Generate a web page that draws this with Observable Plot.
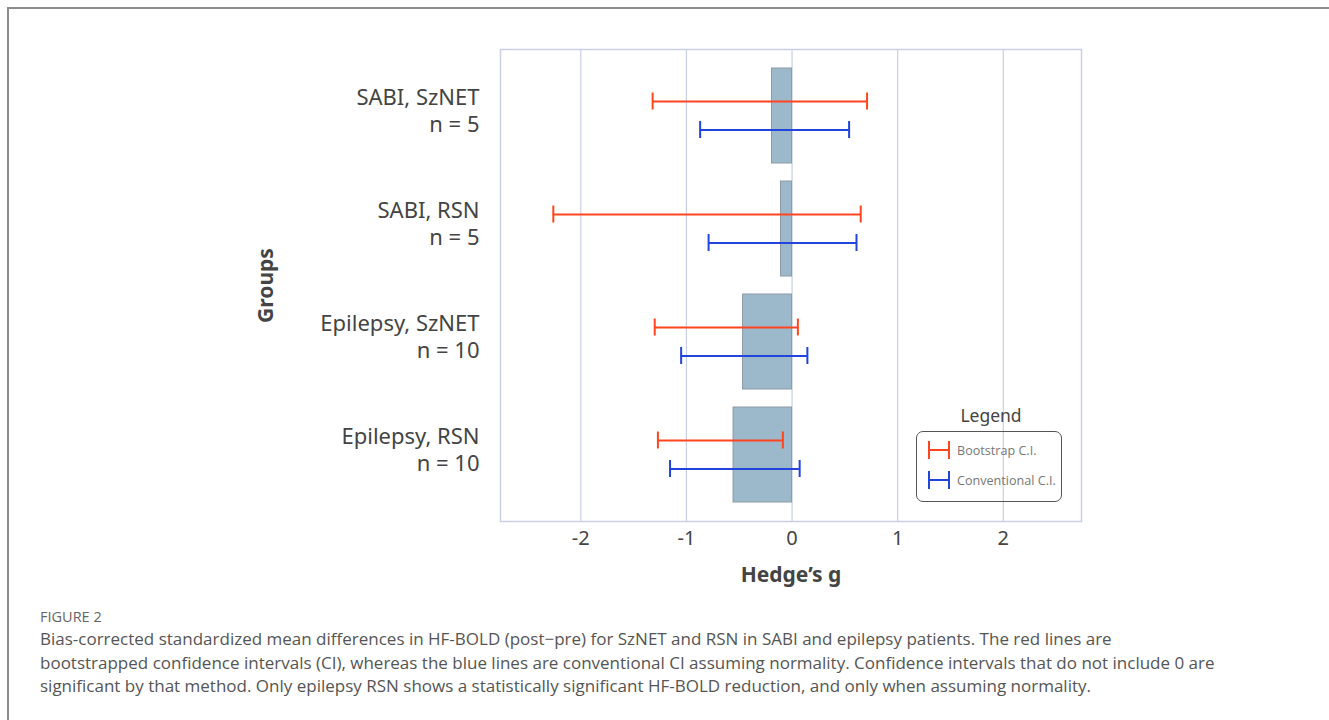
<!DOCTYPE html>
<html><head><meta charset="utf-8">
<script src="https://cdn.jsdelivr.net/npm/d3@7"></script>
<script src="https://cdn.jsdelivr.net/npm/@observablehq/plot@0.6"></script>
<style>
html,body{margin:0;padding:0;background:#fff;width:1329px;height:720px;overflow:hidden;position:relative;}
#frame{position:absolute;left:7px;top:7px;width:1400px;height:800px;border-top:2px solid #8c8c8c;border-left:2px solid #8c8c8c;}
#chart{position:absolute;left:0;top:0;}
#legendTitle{position:absolute;left:917px;width:148px;top:403px;text-align:center;font-family:"Noto Sans";font-size:17.5px;color:#444;}
#legendBox{position:absolute;left:916px;top:431px;width:144px;height:69px;border:1.6px solid #555;border-radius:7px;font-family:"Open Sans";font-size:12.6px;color:#777;}
.item{position:absolute;left:11px;display:flex;align-items:center;gap:7px;height:20px;}
#caption{position:absolute;left:40px;top:606px;font-family:"Open Sans";color:#555;}
#fig{font-size:14.5px;line-height:21px;color:#666;}
#captext{font-size:17px;line-height:23.5px;white-space:nowrap;}
</style></head>
<body>
<div id="frame"></div>
<div id="chart"></div>
<div id="legendTitle">Legend</div>
<div id="legendBox">
  <div class="item" style="top:8px"><svg width="22" height="18"><line x1="1" y1="0" x2="1" y2="18" stroke="#ff4520" stroke-width="2"/><line x1="21" y1="0" x2="21" y2="18" stroke="#ff4520" stroke-width="2"/><line x1="1" y1="9" x2="21" y2="9" stroke="#ff4520" stroke-width="2"/></svg><span>Bootstrap C.I.</span></div>
  <div class="item" style="top:38px"><svg width="22" height="18"><line x1="1" y1="0" x2="1" y2="18" stroke="#2244dd" stroke-width="2"/><line x1="21" y1="0" x2="21" y2="18" stroke="#2244dd" stroke-width="2"/><line x1="1" y1="9" x2="21" y2="9" stroke="#2244dd" stroke-width="2"/></svg><span>Conventional C.I.</span></div>
</div>
<div id="caption">
  <div id="fig">FIGURE 2</div>
  <div id="captext">Bias-corrected standardized mean differences in HF-BOLD (post−pre) for SzNET and RSN in SABI and epilepsy patients. The red lines are<br>bootstrapped confidence intervals (CI), whereas the blue lines are conventional CI assuming normality. Confidence intervals that do not include 0 are<br>significant by that method. Only epilepsy RSN shows a statistically significant HF-BOLD reduction, and only when assuming normality.</div>
</div>
<script>
const groups = ["SABI, SzNET", "SABI, RSN", "Epilepsy, SzNET", "Epilepsy, RSN"];
const nValues = [5, 5, 10, 10];
const hedgesG = [-0.19, -0.105, -0.464, -0.554];
const bootLo = [-1.32, -2.26, -1.30, -1.27];
const bootHi = [0.71, 0.65, 0.055, -0.087];
const convLo = [-0.87, -0.79, -1.05, -1.155];
const convHi = [0.54, 0.61, 0.145, 0.072];
const xTicks = [-2, -1, 0, 1, 2];

const data = groups.map((g, i) => ({group: g, n: nValues[i], g: hedgesG[i], bLo: bootLo[i], bHi: bootHi[i], cLo: convLo[i], cHi: convHi[i]}));
const labelMap = new Map(groups.map((g, i) => [g, `${g}\nn = ${nValues[i]}`]));
const RED = "#ff4520", BLUE = "#2244dd", GRID = "#c9d0e6";

const chart = Plot.plot({
  width: 1329, height: 600,
  marginLeft: 500, marginRight: 248, marginTop: 49, marginBottom: 79,
  style: {fontFamily: "Noto Sans", color: "#444", background: "transparent", overflow: "visible"},
  x: {domain: [-2.76, 2.74]},
  y: {domain: groups, paddingInner: 0.156, paddingOuter: 0.154},
  marks: [
    Plot.gridX(xTicks, {stroke: GRID, strokeOpacity: 1, strokeWidth: 1.2}),
    Plot.barX(data, {x: "g", y: "group", fill: "#9cb9cb", stroke: "#8d9aa3", strokeWidth: 1}),
    Plot.ruleY(data, {x1: "bLo", x2: "bHi", y: "group", dy: -14.5, stroke: RED, strokeWidth: 2}),
    Plot.tickX(data, {x: "bLo", y: "group", insetTop: 24.5, insetBottom: 53.5, stroke: RED, strokeWidth: 2}),
    Plot.tickX(data, {x: "bHi", y: "group", insetTop: 24.5, insetBottom: 53.5, stroke: RED, strokeWidth: 2}),
    Plot.ruleY(data, {x1: "cLo", x2: "cHi", y: "group", dy: 14, stroke: BLUE, strokeWidth: 2}),
    Plot.tickX(data, {x: "cLo", y: "group", insetTop: 53, insetBottom: 25, stroke: BLUE, strokeWidth: 2}),
    Plot.tickX(data, {x: "cHi", y: "group", insetTop: 53, insetBottom: 25, stroke: BLUE, strokeWidth: 2}),
    Plot.frame({stroke: GRID, strokeWidth: 1.5}),
    Plot.axisX(xTicks, {tickSize: 0, tickPadding: 9, fontSize: 20, fill: "#444", tickFormat: d => String(d), label: null}),
    Plot.axisY({tickSize: 0, tickPadding: 21, fontSize: 22, fill: "#444", lineHeight: 1.24, dy: -6, tickFormat: d => labelMap.get(d), label: null}),
    Plot.text(["Hedge’s g"], {text: d => d, frameAnchor: "bottom", dy: 60, fontSize: 21, fontWeight: "bold", fill: "#444"}),
    Plot.text(["Groups"], {text: d => d, frameAnchor: "left", textAnchor: "middle", dx: -234, rotate: -90, fontSize: 21, fontWeight: "bold", fill: "#444"})
  ]
});
document.getElementById("chart").appendChild(chart);
</script>
</body></html>
